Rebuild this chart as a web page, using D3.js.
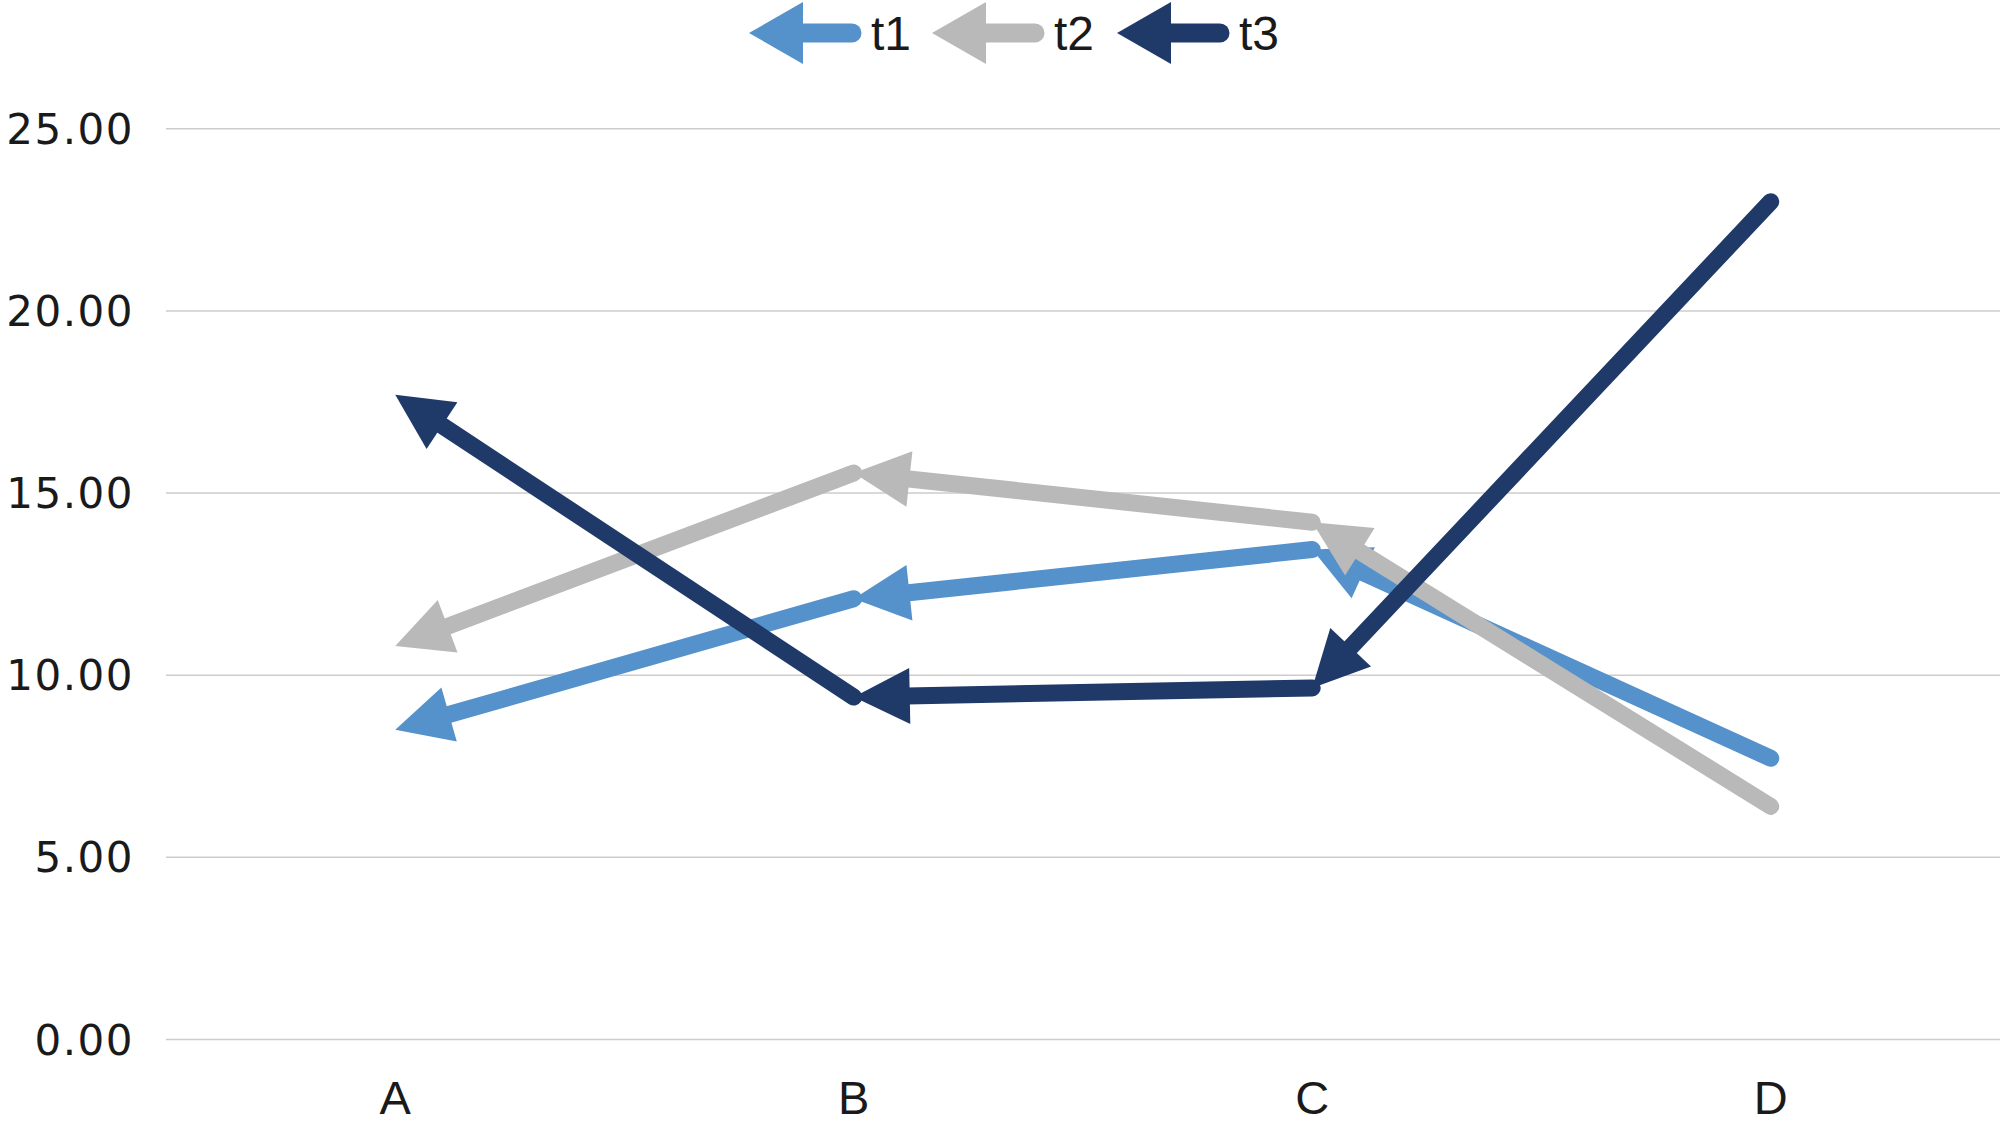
<!DOCTYPE html>
<html>
<head>
<meta charset="utf-8">
<script src="https://cdn.jsdelivr.net/npm/d3@7/dist/d3.min.js"></script>
<style>
  html, body { margin: 0; padding: 0; background: #fff; }
  svg { display: block; }
</style>
</head>
<body>
<svg id="chart" width="2000" height="1128"></svg>
<script>
const categories = ["A", "B", "C", "D"];
const seriesNames = ["t1", "t2", "t3"];
const t1 = [8.5, 12.1, 13.45, 7.72];
const t2 = [10.8, 15.55, 14.2, 6.4];
const t3 = [17.7, 9.4, 9.65, 23.0];
const yTicks = [0, 5, 10, 15, 20, 25];
const colors = ["#5592cb", "#b9b9b9", "#1f3a68"];

const seriesValues = [t1, t2, t3];

const svg = d3.select("#chart");
const W = 2000, H = 1128;

const x = d3.scaleBand().domain(categories).range([166, 2000]);
const y = d3.scaleLinear().domain([0, 25]).range([1039.5, 128.8]);
const cx = c => x(c) + x.bandwidth() / 2;

// gridlines
svg.append("g").selectAll("line").data(yTicks).join("line")
  .attr("x1", 166).attr("x2", W)
  .attr("y1", d => y(d)).attr("y2", d => y(d))
  .attr("stroke", "#cccccc").attr("stroke-width", 1.5);

// y axis labels
svg.append("g").selectAll("text").data(yTicks).join("text")
  .attr("x", 134).attr("y", d => y(d))
  .attr("dy", "0.36em")
  .attr("text-anchor", "end")
  .attr("font-family", "DejaVu Sans, sans-serif")
  .attr("font-size", 42)
  .attr("letter-spacing", 1.5)
  .attr("fill", "#1a1a1a")
  .text(d => d3.format(".2f")(d));

// x axis labels
svg.append("g").selectAll("text").data(categories).join("text")
  .attr("x", d => cx(d)).attr("y", 1114)
  .attr("text-anchor", "middle")
  .attr("font-family", "'Liberation Sans Narrow', 'Liberation Sans', sans-serif")
  .attr("font-size", 47)
  .attr("fill", "#1a1a1a")
  .text(d => d);

// arrow helper: line from p0 to p1 with arrowhead at p0 pointing toward p0
function arrowSeg(g, p0, p1, color, sw, L, Wd, cap) {
  const dx = p1[0] - p0[0], dy = p1[1] - p0[1];
  const len = Math.hypot(dx, dy);
  const ux = dx / len, uy = dy / len;
  const nx = -uy, ny = ux;
  const bx = p0[0] + ux * L, by = p0[1] + uy * L;
  g.append("line")
    .attr("x1", bx - ux * 3).attr("y1", by - uy * 3)
    .attr("x2", p1[0]).attr("y2", p1[1])
    .attr("stroke", color).attr("stroke-width", sw)
    .attr("stroke-linecap", cap);
  g.append("path")
    .attr("d", `M${p0[0]},${p0[1]} L${bx + nx * Wd / 2},${by + ny * Wd / 2} L${bx - nx * Wd / 2},${by - ny * Wd / 2} Z`)
    .attr("fill", color);
}

// series
seriesValues.forEach((vals, si) => {
  const g = svg.append("g").attr("class", "series-" + seriesNames[si]);
  const pts = vals.map((v, i) => [cx(categories[i]), y(v)]);
  for (let i = 0; i < pts.length - 1; i++) {
    arrowSeg(g, pts[i], pts[i + 1], colors[si], 17, 56, 56, "round");
  }
});

// legend
const legendX = [749, 932, 1117];
const legendY = 33;
seriesNames.forEach((name, i) => {
  const g = svg.append("g").attr("class", "legend");
  const x0 = legendX[i];
  arrowSeg(g, [x0, legendY], [x0 + 103, legendY], colors[i], 19, 54, 62, "round");
  g.append("text")
    .attr("x", x0 + 122).attr("y", legendY)
    .attr("dy", "0.36em")
    .attr("font-family", "'Liberation Sans', sans-serif")
    .attr("font-size", 48)
    .attr("fill", "#1a1a1a")
    .text(name);
});
</script>
</body>
</html>
